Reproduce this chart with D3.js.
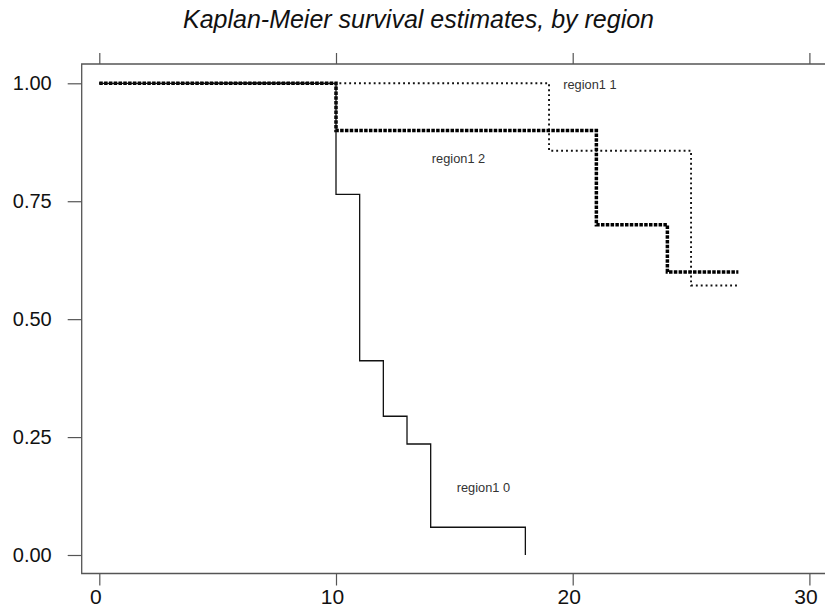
<!DOCTYPE html>
<html><head><meta charset="utf-8">
<script src="https://cdn.jsdelivr.net/npm/d3@7"></script>
<style>body{margin:0;background:#fff}svg{display:block}</style>
</head><body>
<svg id="c" width="825" height="607"></svg>
<script>
const title = "Kaplan-Meier survival estimates, by region";
const groups = ["region1 0", "region1 1", "region1 2"];
const times0 = [0, 10, 11, 12, 13, 14, 18];
const surv0  = [1, 13/17, 7/17, 5/17, 4/17, 1/17, 0];
const times1 = [0, 19, 25, 27];
const surv1  = [1, 6/7, 4/7, 4/7];
const times2 = [0, 10, 21, 24, 27];
const surv2  = [1, 0.9, 0.7, 0.6, 0.6];
const xTicks = [0, 10, 20, 30];
const yTicks = [0, 0.25, 0.5, 0.75, 1];
const labelX = [15.1, 19.6, 14.05];
const labelY = [0.144, 0.998, 0.841];

const svg = d3.select("#c");
const x = d3.scaleLinear().domain([0, 30]).range([99.3, 809.4]);
const y = d3.scaleLinear().domain([0, 1]).range([555, 83.3]);
const box = {l: 81.7, t: 64, b: 573.5, r: 840};
const font = "'Liberation Sans', Arial, Helvetica, sans-serif";

svg.append("text").attr("x", 418.5).attr("y", 28).attr("text-anchor", "middle")
  .attr("font-family", font).attr("font-style", "italic").attr("font-size", 25)
  .attr("fill", "#111").text(title);

// frame
svg.append("path").attr("d", `M${box.r},${box.t}H${box.l}V${box.b}H${box.r}`)
  .attr("fill", "none").attr("stroke", "#555").attr("stroke-width", 1.3);

// axes
const axL = d3.axisLeft(y).tickValues(yTicks).tickFormat(d3.format(".2f")).tickSize(14).tickPadding(16);
const gL = svg.append("g").attr("transform", `translate(${box.l},0)`).call(axL);
const axB = d3.axisBottom(x).tickValues(xTicks).tickFormat(d3.format("d")).tickSize(12).tickPadding(4);
const gB = svg.append("g").attr("transform", `translate(0,${box.b})`).call(axB);
const axT = d3.axisTop(x).tickValues(xTicks).tickFormat("").tickSize(11);
const gT = svg.append("g").attr("transform", `translate(0,${box.t})`).call(axT);
[gL, gB, gT].forEach(g => {
  g.select(".domain").remove();
  g.selectAll("line").attr("stroke", "#555").attr("stroke-width", 1.2);
  g.selectAll("text").attr("font-family", font).attr("fill", "#111");
});
gL.selectAll("text").attr("font-size", 20);
gB.selectAll("text").attr("font-size", 21).attr("dx", -4);

const line = d3.line().x(d => x(d[0])).y(d => y(d[1])).curve(d3.curveStepAfter);
function pts(t, s) { return t.map((v, i) => [v, s[i]]); }

// region1 1: fine dots
svg.append("path").datum(pts(times1, surv1)).attr("d", line)
  .attr("fill", "none").attr("stroke", "#111").attr("stroke-width", 1.9)
  .attr("stroke-dasharray", "1.9,3");
// region1 2: heavy dots
svg.append("path").datum(pts(times2, surv2)).attr("d", line)
  .attr("fill", "none").attr("stroke", "#000").attr("stroke-width", 3.5)
  .attr("stroke-dasharray", "3.5,1.3");
// region1 0: solid
svg.append("path").datum(pts(times0, surv0)).attr("d", line)
  .attr("fill", "none").attr("stroke", "#111").attr("stroke-width", 1.3);

groups.forEach((g, i) => {
  svg.append("text").attr("x", x(labelX[i])).attr("y", y(labelY[i])).attr("dy", "0.35em")
    .attr("font-family", font).attr("font-size", 12.8).attr("fill", "#333").text(g);
});
</script>
</body></html>
